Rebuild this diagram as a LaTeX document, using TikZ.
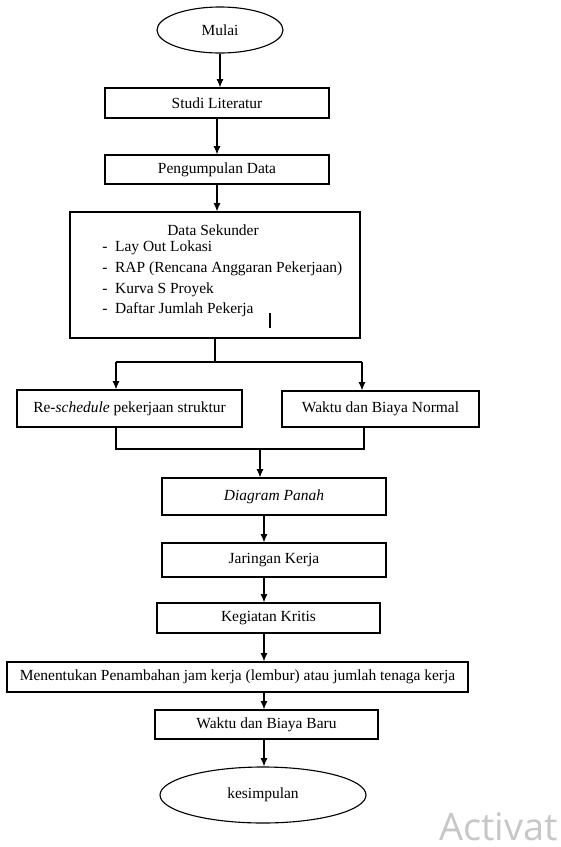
\documentclass[tikz,border=0pt]{standalone}
\usepackage{fontspec}
\setmainfont{Liberation Serif}
\newfontfamily\winfont{Open Sans}
\usetikzlibrary{arrows.meta,shapes,positioning}

\tikzset{
  flowbox/.style={draw, rectangle, line width=0.8pt, inner sep=0pt, font=\fontsize{11}{13}\selectfont},
  terminal/.style={draw, ellipse, line width=0.8pt, inner sep=0pt, font=\fontsize{11}{13}\selectfont},
  plaintext/.style={inner sep=0pt, font=\fontsize{11}{13}\selectfont},
  flowline/.style={line width=0.8pt, -{Latex[length=6pt,width=5pt]}},
  joinline/.style={line width=0.8pt}
}

\begin{document}
\begin{tikzpicture}
				\useasboundingbox (0,0) rectangle (14.025,-21.175);
				\node[terminal, minimum width=3.15cm, minimum height=1.15cm] (mulai) at (5.5,-0.75) {Mulai};
				\node[flowbox, minimum width=5.6cm, minimum height=0.75cm] (studi) at (5.425,-2.575) {Studi Literatur};
				\node[flowbox, minimum width=5.6cm, minimum height=0.725cm] (kumpul) at (5.425,-4.2375) {Pengumpulan Data};
				\node[flowbox, minimum width=7.25cm, minimum height=3.15cm] (sekunder) at (5.375,-6.875) {};
				\node[plaintext] (sektitle) at (5.325,-5.75) {Data Sekunder};
				\node[plaintext, anchor=west] (item1) at (2.55,-6.2) {-\hspace{5.5pt}Lay Out Lokasi};
				\node[plaintext, anchor=west] (item2) at (2.55,-6.72) {-\hspace{5.5pt}RAP (Rencana Anggaran Pekerjaan)};
				\node[plaintext, anchor=west] (item3) at (2.55,-7.25) {-\hspace{5.5pt}Kurva S Proyek};
				\node[plaintext, anchor=west] (item4) at (2.55,-7.75) {-\hspace{5.5pt}Daftar Jumlah Pekerja};
				\draw[line width=1.6pt] (6.75,-7.825) -- (6.75,-8.2);
				\node[flowbox, minimum width=5.625cm, minimum height=0.925cm] (resched) at (3.2375,-10.2125) {Re-\textit{schedule} pekerjaan struktur};
				\node[flowbox, minimum width=4.925cm, minimum height=0.9cm] (normal) at (9.5125,-10.225) {Waktu dan Biaya Normal};
				\node[flowbox, minimum width=5.6cm, minimum height=0.925cm] (panah) at (6.85,-12.4125) {\textit{Diagram Panah}};
				\node[flowbox, minimum width=5.6cm, minimum height=0.85cm] (jaringan) at (6.85,-14.0) {Jaringan Kerja};
				\node[flowbox, minimum width=5.575cm, minimum height=0.75cm] (kritis) at (6.7125,-15.45) {Kegiatan Kritis};
				\node[flowbox, minimum width=11.525cm, minimum height=0.75cm] (lembur) at (5.9375,-16.925) {Menentukan Penambahan jam kerja (lembur) atau jumlah tenaga kerja};
				\node[flowbox, minimum width=5.575cm, minimum height=0.725cm] (baru) at (6.6625,-18.1125) {Waktu dan Biaya Baru};
				\node[terminal, minimum width=5.15cm, minimum height=1.4cm] (kesimpulan) at (6.575,-19.875) {kesimpulan};
				\node[anchor=base east, inner sep=0pt, text=black!22, font=\winfont\fontsize{27}{27}\selectfont] (watermark) at (13.95,-21.0) {Activat};

				% top part
				\draw[flowline] (mulai.south) -- (mulai.south |- studi.north);
				\draw[flowline] (studi.south) -- (studi.south |- kumpul.north);
				\draw[flowline] (kumpul.south) -- (kumpul.south |- sekunder.north);

				% split into two branches
				\coordinate (splitL) at (2.9,-9.05);
				\coordinate (splitR) at (9.05,-9.05);
				\draw[joinline] (sekunder.south) -- (sekunder.south |- splitL);
				\draw[joinline] (splitL) -- (splitR);
				\draw[flowline] (splitL) -- (splitL |- resched.north);
				\draw[flowline] (splitR) -- (splitR |- normal.north);

				% join the branches again
				\coordinate (joinL) at (2.9,-11.225);
				\coordinate (joinR) at (9.1,-11.225);
				\coordinate (joinM) at (6.5,-11.225);
				\draw[joinline] (resched.south -| joinL) -- (joinL) -- (joinR) -- (normal.south -| joinR);
				\draw[flowline] (joinM) -- (joinM |- panah.north);

				% lower part
				\coordinate (spine) at (6.6,0);
				\draw[flowline] (panah.south -| spine) -- (jaringan.north -| spine);
				\draw[flowline] (jaringan.south -| spine) -- (kritis.north -| spine);
				\draw[flowline] (kritis.south -| spine) -- (lembur.north -| spine);
				\draw[flowline] (lembur.south -| spine) -- (baru.north -| spine);
				\draw[flowline] (baru.south -| spine) -- (kesimpulan.north -| spine);
\end{tikzpicture}
\end{document}
